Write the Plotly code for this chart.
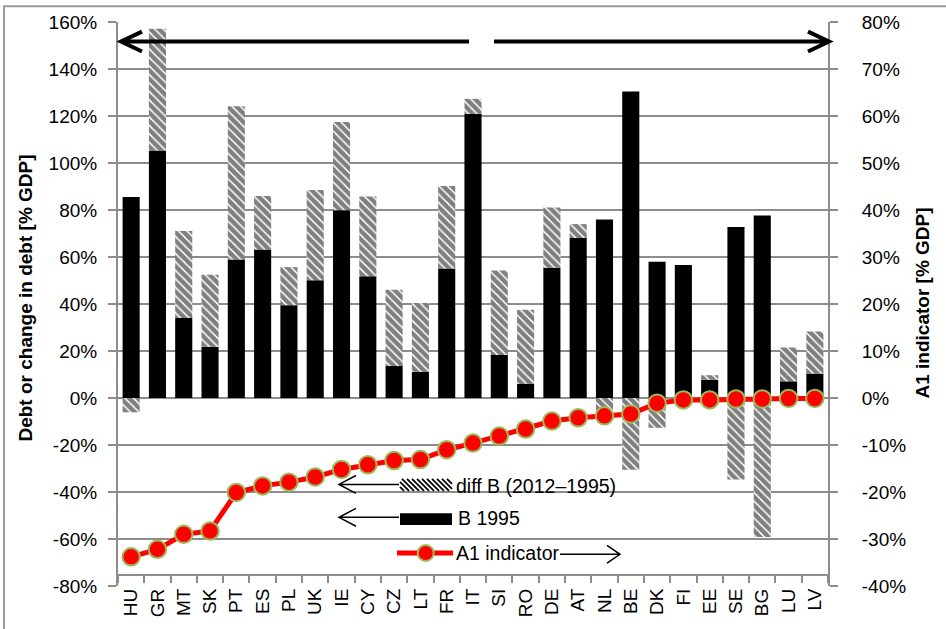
import plotly.graph_objects as go

# ---------------- data ----------------
countries = ["HU", "GR", "MT", "SK", "PT", "ES", "PL", "UK", "IE", "CY", "CZ", "LT", "FR", "IT",
             "SI", "RO", "DE", "AT", "NL", "BE", "DK", "FI", "EE", "SE", "BG", "LU", "LV"]
b_1995 = [85.5, 105.3, 34.0, 21.8, 58.9, 63.2, 39.5, 50.1, 79.9, 51.8, 13.6, 11.2, 55.1, 120.9,
          18.3, 6.1, 55.4, 68.1, 76.0, 130.4, 58.0, 56.6, 7.8, 72.8, 77.7, 7.1, 10.4]
diff_b = [-6.1, 51.8, 37.1, 30.6, 65.3, 22.8, 16.2, 38.4, 37.6, 33.9, 32.5, 29.2, 35.1, 6.4,
          36.0, 31.5, 25.7, 5.9, -6.0, -30.5, -12.7, -1.5, 1.9, -34.7, -59.1, 14.4, 17.9]
a1_indicator = [-33.8, -32.2, -29.0, -28.3, -20.1, -18.7, -17.9, -16.8, -15.2, -14.2, -13.3, -13.1,
                -11.0, -9.6, -8.1, -6.6, -4.9, -4.2, -3.8, -3.4, -1.1, -0.4, -0.4, -0.2, -0.2,
                -0.1, -0.1]
left_ticks = list(range(-80, 161, 20))
right_ticks = list(range(-40, 81, 10))
left_labels = [f"{v}%" for v in left_ticks]
right_labels = [f"{v}%" for v in right_ticks]

# ---------------- geometry (pixels) ----------------
W, H = 946, 629
PL, PR, PT, PB = 118, 828, 22, 591
GRAY = "#8c8c8c"
FONT = "Liberation Sans, Arial, sans-serif"


def px(x):
    return (x - PL) / (PR - PL)


def py(y):
    return (PB - y) / (PB - PT)


fig = go.Figure()
fig.add_trace(go.Bar(x=countries, y=b_1995, name="B 1995",
                     marker=dict(color="black", line=dict(width=0))))
fig.add_trace(go.Bar(x=countries, y=diff_b, name="diff B (2012–1995)",
                     marker=dict(color="white", line=dict(width=0),
                                 pattern=dict(shape="\\", fgcolor="black", bgcolor="white",
                                              size=6, solidity=0.75))))
fig.add_trace(go.Scatter(x=countries, y=a1_indicator, name="A1 indicator", yaxis="y2",
                         mode="lines+markers",
                         line=dict(color="#ff0000", width=5),
                         marker=dict(size=17.5, color="#ff0000",
                                     line=dict(color="#9bbb59", width=2))))

shapes = []


def path_shape(pts_list, width, color="black"):
    d = ""
    for pts in pts_list:
        d += "M{:.5f},{:.5f}".format(px(pts[0][0]), py(pts[0][1]))
        for (x, y) in pts[1:]:
            d += " L{:.5f},{:.5f}".format(px(x), py(y))
        d += " "
    return dict(type="path", xref="paper", yref="paper", path=d.strip(),
                line=dict(color=color, width=width), layer="above")


def arrow(x_tail, x_head, y, width, head_len, head_half):
    sgn = 1 if x_tail > x_head else -1
    return path_shape([[(x_tail, y), (x_head, y)],
                       [(x_head + sgn * head_len, y - head_half), (x_head, y),
                        (x_head + sgn * head_len, y + head_half)]], width)


# outer chart border
shapes.append(dict(type="rect", xref="paper", yref="paper",
                   x0=px(4), x1=px(960), y0=py(6), y1=py(650),
                   line=dict(color="#9a9a9a", width=2), layer="below"))

# top arrows
shapes.append(arrow(469, 121, 41.7, 4, 21, 10))
shapes.append(arrow(494, 829, 41.7, 4, 21, 10))

# legend: hatched swatch
hx0, hx1, hy0, hy1 = 400, 452, 483, 495
segs = []
c = hy0 - hx1
while c < hy1 - hx0:
    xa = max(hx0, hy0 - c)
    xb = min(hx1, hy1 - c)
    if xb > xa:
        segs.append([(xa, xa + c), (xb, xb + c)])
    c += 5
shapes.append(path_shape(segs, 1.8))
# legend: black swatch
shapes.append(dict(type="rect", xref="paper", yref="paper",
                   x0=px(400), x1=px(452), y0=py(529.5), y1=py(517.5),
                   fillcolor="black", line=dict(width=0), layer="above"))
# legend: red line + marker
shapes.append(path_shape([[(397, 557.7), (453, 557.7)]], 5, "#ff0000"))
shapes.append(dict(type="circle", xref="paper", yref="paper",
                   x0=px(425.7 - 8), x1=px(425.7 + 8), y0=py(557.7 + 8), y1=py(557.7 - 8),
                   fillcolor="#ff0000", line=dict(color="#9bbb59", width=2), layer="above"))
# legend arrows
shapes.append(arrow(399, 339, 488.5, 1.5, 17, 9))
shapes.append(arrow(399, 339, 521.7, 1.5, 17, 9))
shapes.append(arrow(560, 620, 559, 1.5, 13, 9))

annotations = [
    dict(text="<b>Debt or change in debt [% GDP]</b>", xref="paper", yref="paper",
         x=px(26), y=py(301), xanchor="center", yanchor="middle",
         textangle=-90, showarrow=False,
         font=dict(family=FONT, size=19, color="black")),
    dict(text="<b>A1 indicator [% GDP]</b>", xref="paper", yref="paper",
         x=px(923), y=py(306), xanchor="center", yanchor="middle",
         textangle=-90, showarrow=False,
         font=dict(family=FONT, size=19, color="black")),
    dict(text="diff B (2012–1995)", xref="paper", yref="paper", x=px(454), y=py(490),
         xanchor="left", yanchor="middle", showarrow=False,
         font=dict(family=FONT, size=19.5, color="black")),
    dict(text="B 1995", xref="paper", yref="paper", x=px(456), y=py(522.5),
         xanchor="left", yanchor="middle", showarrow=False,
         font=dict(family=FONT, size=19.5, color="black")),
    dict(text="A1 indicator", xref="paper", yref="paper", x=px(454), y=py(558),
         xanchor="left", yanchor="middle", showarrow=False,
         font=dict(family=FONT, size=19.5, color="black")),
]

fig.update_layout(
    width=W, height=H,
    margin=dict(l=PL, r=W - PR, t=PT, b=H - PB, pad=0),
    paper_bgcolor="white", plot_bgcolor="white",
    barmode="relative", bargap=0.35,
    showlegend=False,
    font=dict(family=FONT, size=19, color="black"),
    xaxis=dict(type="category", tickson="boundaries", ticks="outside", ticklen=7,
               tickwidth=1.5, tickcolor=GRAY, showline=True, linecolor=GRAY, linewidth=2,
               anchor="free", position=py(580), tickangle=-90, showgrid=False,
               range=[-0.5, len(countries) - 0.5], ticklabelstandoff=5,
               tickfont=dict(family=FONT, size=19, color="black")),
    yaxis=dict(range=[-80, 160], tickvals=left_ticks, ticktext=left_labels,
               ticks="outside", ticklen=8, tickwidth=1.5, tickcolor=GRAY,
               showline=True, linecolor=GRAY, linewidth=2,
               showgrid=True, gridcolor=GRAY, gridwidth=1.5, zeroline=False,
               ticklabelstandoff=7,
               tickfont=dict(family=FONT, size=19, color="black")),
    yaxis2=dict(range=[-40, 80], tickvals=right_ticks, ticktext=right_labels,
                overlaying="y", side="right", anchor="x",
                ticks="outside", ticklen=8, tickwidth=1.5, tickcolor=GRAY,
                showline=True, linecolor=GRAY, linewidth=2,
                showgrid=False, zeroline=False, ticklabelstandoff=20,
                tickfont=dict(family=FONT, size=19, color="black")),
    shapes=shapes,
    annotations=annotations,
)

fig.write_html("out.html", config={"displayModeBar": False},
               post_script="document.body.style.margin='0';")
